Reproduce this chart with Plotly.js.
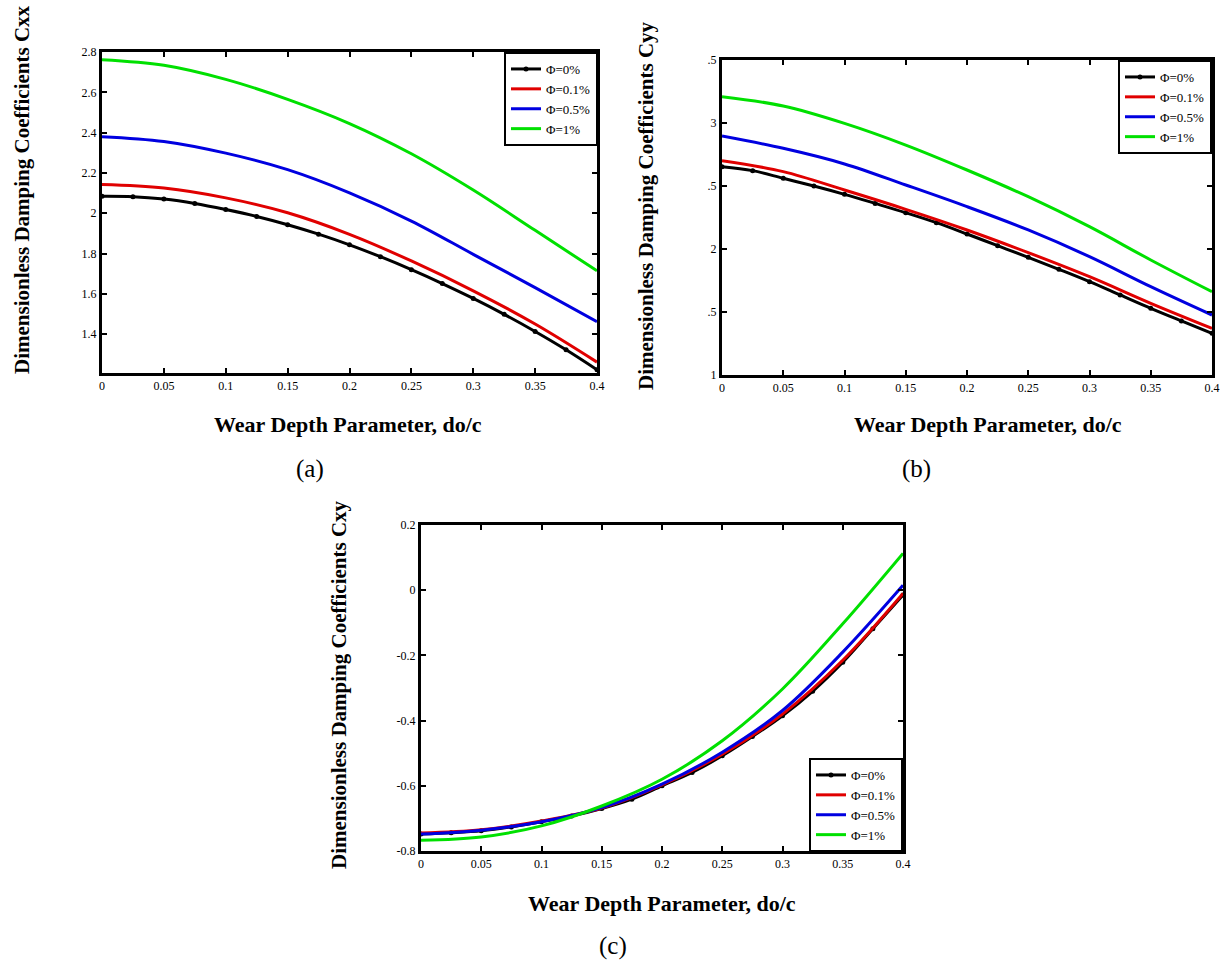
<!DOCTYPE html>
<html><head><meta charset="utf-8">
<script src="https://cdn.plot.ly/plotly-3.0.1.min.js"></script>
<style>html,body{margin:0;padding:0;background:#fff}#plot{width:1222px;height:960px}</style>
</head><body><div id="plot"></div>
<script>
// x values
const xFine = [0,0.025,0.05,0.075,0.1,0.125,0.15,0.175,0.2,0.225,0.25,0.275,0.3,0.325,0.35,0.375,0.4];
const xCoarse = [0,0.05,0.1,0.15,0.2,0.25,0.3,0.35,0.4];
const seriesNames = ['Φ=0%','Φ=0.1%','Φ=0.5%','Φ=1%'];
const seriesColors = ['#000000','#e00000','#0000e0','#00e000'];

// (a) Cxx
const cxx_phi0   = [2.084,2.082,2.070,2.048,2.018,1.984,1.943,1.896,1.843,1.784,1.720,1.651,1.577,1.498,1.413,1.322,1.223];
const cxx_phi01  = [2.142,2.125,2.076,2.002,1.895,1.763,1.615,1.450,1.261];
const cxx_phi05  = [2.380,2.356,2.298,2.216,2.101,1.961,1.796,1.631,1.462];
const cxx_phi1   = [2.762,2.734,2.664,2.565,2.445,2.295,2.115,1.915,1.714];

// (b) Cyy
const cyy_phi0   = [2.653,2.622,2.561,2.500,2.434,2.362,2.288,2.209,2.119,2.026,1.934,1.839,1.741,1.635,1.529,1.429,1.331];
const cyy_phi01  = [2.701,2.614,2.468,2.315,2.151,1.971,1.780,1.569,1.370];
const cyy_phi05  = [2.897,2.799,2.675,2.508,2.336,2.151,1.939,1.701,1.476];
const cyy_phi1   = [3.209,3.135,2.997,2.825,2.627,2.415,2.177,1.913,1.661];

// (c) Cxy
const cxy_phi0   = [-0.748,-0.744,-0.738,-0.726,-0.710,-0.693,-0.670,-0.641,-0.600,-0.559,-0.508,-0.449,-0.385,-0.310,-0.221,-0.118,-0.015];
const cxy_phi01  = [-0.745,-0.735,-0.708,-0.668,-0.597,-0.503,-0.380,-0.215,-0.010];
const cxy_phi05  = [-0.748,-0.736,-0.710,-0.667,-0.595,-0.497,-0.369,-0.190,0.015];
const cxy_phi1   = [-0.767,-0.757,-0.723,-0.662,-0.580,-0.462,-0.303,-0.103,0.113];

// tick labels
const xTickVals = [0,0.05,0.1,0.15,0.2,0.25,0.3,0.35,0.4];
const xTickText = ['0','0.05','0.1','0.15','0.2','0.25','0.3','0.35','0.4'];
const cxxTickVals = [1.4,1.6,1.8,2.0,2.2,2.4,2.6,2.8];
const cxxTickText = ['1.4','1.6','1.8','2','2.2','2.4','2.6','2.8'];
const cyyTickVals = [1,1.5,2,2.5,3,3.5];
const cyyTickText = ['1','.5','2','.5','3','.5'];
const cxyTickVals = [-0.8,-0.6,-0.4,-0.2,0,0.2];
const cxyTickText = ['-0.8','-0.6','-0.4','-0.2','0','0.2'];

const xTitle = 'Wear Depth Parameter, do/c';
const yTitles = ['Dimensionless Damping Coefficients Cxx','Dimensionless Damping Coefficients Cyy','Dimensionless Damping Coefficients Cxy'];
const captions = ['(a)','(b)','(c)'];

const panels = [
  {xa:'x', ya:'y', leg:'legend', data:[cxx_phi0,cxx_phi01,cxx_phi05,cxx_phi1]},
  {xa:'x2', ya:'y2', leg:'legend2', data:[cyy_phi0,cyy_phi01,cyy_phi05,cyy_phi1]},
  {xa:'x3', ya:'y3', leg:'legend3', data:[cxy_phi0,cxy_phi01,cxy_phi05,cxy_phi1]}
];

const traces = [];
panels.forEach(p => {
  p.data.forEach((vals, i) => {
    const t = {
      x: i === 0 ? xFine : xCoarse, y: vals,
      xaxis: p.xa, yaxis: p.ya, legend: p.leg,
      name: seriesNames[i], type: 'scatter',
      mode: i === 0 ? 'lines+markers' : 'lines',
      line: {color: seriesColors[i], width: 3, shape: 'spline', smoothing: 1},
      showlegend: true
    };
    if (i === 0) t.marker = {color: '#000', size: 5, symbol: 'circle'};
    traces.push(t);
  });
});

const serif = 'Liberation Serif, Times New Roman, serif';
const tickFont = {family: serif, size: 12, color: '#000'};
function xAxis(domain, anchor) {
  return {domain, anchor, range: [0, 0.4], tickvals: xTickVals, ticktext: xTickText,
    showgrid: false, zeroline: false, showline: true, linewidth: 3, linecolor: '#000',
    mirror: 'ticks', ticks: 'inside', ticklen: 5, tickwidth: 2, tickcolor: '#000', tickfont: tickFont};
}
function yAxis(domain, anchor, range, tv, tt) {
  return {domain, anchor, range, tickvals: tv, ticktext: tt,
    showgrid: false, zeroline: false, showline: true, linewidth: 3, linecolor: '#000',
    mirror: 'ticks', ticks: 'inside', ticklen: 5, tickwidth: 2, tickcolor: '#000', tickfont: tickFont};
}
const legFont = {family: serif, size: 13, color: '#000'};
function legend(x, y) {
  return {x, y, xanchor: 'right', yanchor: 'top', xref: 'paper', yref: 'paper',
    bgcolor: '#fff', bordercolor: '#000', borderwidth: 2, font: legFont,
    tracegroupgap: 0, itemwidth: 30};
}
const W = 1222, H = 960;
const px = v => v / W, py = v => 1 - v / H;

const xTitleFont = {family: serif, size: 22, color: '#000'};
const yTitleFont = {family: serif, size: 21, color: '#000'};
const capFont = {family: serif, size: 25, color: '#000'};
const ann = (text, x, y, font, angle) => ({text, x: px(x), y: py(y), xref: 'paper', yref: 'paper',
  showarrow: false, font, textangle: angle || 0, xanchor: 'center', yanchor: 'middle'});
const annotations = [
  ann('<b>' + xTitle + '</b>', 348, 425, xTitleFont),
  ann('<b>' + xTitle + '</b>', 988, 425, xTitleFont),
  ann('<b>' + xTitle + '</b>', 662, 903, xTitleFont),
  ann('<b>' + yTitles[0] + '</b>', 22, 190, yTitleFont, -90),
  ann('<b>' + yTitles[1] + '</b>', 646, 206, yTitleFont, -90),
  ann('<b>' + yTitles[2] + '</b>', 339, 685, yTitleFont, -90),
  ann(captions[0], 310, 469, capFont),
  ann(captions[1], 916, 469, capFont),
  ann(captions[2], 613, 946, capFont)
];

const layout = {
  width: W, height: H, margin: {l: 0, r: 0, t: 0, b: 0},
  paper_bgcolor: '#fff', plot_bgcolor: '#fff', showlegend: true,
  xaxis: xAxis([px(102), px(597)], 'y'),
  yaxis: yAxis([py(373), py(52)], 'x', [1.207, 2.8], cxxTickVals, cxxTickText),
  xaxis2: xAxis([px(722), px(1212)], 'y2'),
  yaxis2: yAxis([py(375), py(60)], 'x2', [1, 3.5], cyyTickVals, cyyTickText),
  xaxis3: xAxis([px(421), px(903)], 'y3'),
  yaxis3: yAxis([py(851), py(525)], 'x3', [-0.8, 0.2], cxyTickVals, cxyTickText),
  legend: legend(px(598), py(52)),
  legend2: legend(px(1212), py(60)),
  legend3: legend(px(903), py(758)),
  annotations
};
Plotly.newPlot('plot', traces, layout, {displayModeBar: false, staticPlot: true});
</script></body></html>
